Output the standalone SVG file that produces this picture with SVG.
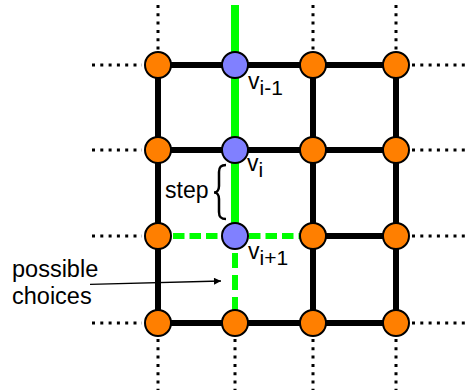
<svg xmlns="http://www.w3.org/2000/svg" width="466" height="390" viewBox="0 0 466 390">
<defs>
<style>
.edge{stroke:#000;stroke-width:6;fill:none}
.dot{stroke:#000;stroke-width:3;stroke-dasharray:3 5.3;fill:none}
.green{stroke:#00FF00;stroke-width:8;fill:none}
.gdash{stroke:#00FF00;stroke-width:6;fill:none}
.on{fill:#FF7F00;stroke:#000;stroke-width:2}
.pn{fill:#8080FF;stroke:#000;stroke-width:2}
text{font-family:"Liberation Sans",Arial,sans-serif;fill:#000}
.lab{font-size:23px}
.big{font-size:23.5px}
.sub{font-size:21px}
</style>
<marker id="arr" viewBox="0 0 10 10" refX="10" refY="5" markerWidth="10" markerHeight="7" markerUnits="userSpaceOnUse" orient="auto">
<path d="M0,0 L10,5 L0,10 z" fill="#000"/>
</marker>
</defs>
<g id="connectors">
<line class="dot" x1="92" y1="65" x2="142" y2="65"/>
<line class="dot" x1="92" y1="150" x2="142" y2="150"/>
<line class="dot" x1="92" y1="236" x2="142" y2="236"/>
<line class="dot" x1="92" y1="323" x2="142" y2="323"/>
<line class="dot" x1="412" y1="65" x2="466" y2="65"/>
<line class="dot" x1="412" y1="150" x2="466" y2="150"/>
<line class="dot" x1="412" y1="236" x2="466" y2="236"/>
<line class="dot" x1="412" y1="323" x2="466" y2="323"/>
<line class="dot" x1="158" y1="5" x2="158" y2="50"/>
<line class="dot" x1="313" y1="5" x2="313" y2="50"/>
<line class="dot" x1="396" y1="5" x2="396" y2="50"/>
<line class="dot" x1="158" y1="339" x2="158" y2="390"/>
<line class="dot" x1="235" y1="339" x2="235" y2="390"/>
<line class="dot" x1="313" y1="339" x2="313" y2="390"/>
<line class="dot" x1="396" y1="339" x2="396" y2="390"/>
<line class="edge" x1="158" y1="65" x2="396" y2="65"/>
<line class="edge" x1="158" y1="150" x2="396" y2="150"/>
<line class="edge" x1="313" y1="236" x2="396" y2="236"/>
<line class="edge" x1="158" y1="323" x2="396" y2="323"/>
<line class="edge" x1="158" y1="65" x2="158" y2="323"/>
<line class="edge" x1="313" y1="65" x2="313" y2="323"/>
<line class="edge" x1="396" y1="65" x2="396" y2="323"/>
<line class="green" x1="235" y1="5" x2="235" y2="236"/>
<line class="gdash" x1="173" y1="236" x2="222" y2="236" stroke-dasharray="11.5 5"/>
<line class="gdash" x1="249" y1="236" x2="300" y2="236" stroke-dasharray="11.5 5"/>
<line class="gdash" x1="235" y1="253" x2="235" y2="312" stroke-dasharray="15 7"/>
<path d="M226,165 C220,165 219,168 219,172 L219,186 C219,190 217,192.5 214,192.5 C217,192.5 219,195 219,199 L219,212 C219,216 220,219 226,219" fill="none" stroke="#000" stroke-width="2.5"/>
<line x1="90" y1="284.3" x2="221" y2="281" stroke="#000" stroke-width="1.3" marker-end="url(#arr)"/>
</g>
<g id="n11"><circle class="on" cx="158" cy="65" r="13"/></g>
<g id="n12"><circle class="pn" cx="235" cy="65" r="13"/></g>
<g id="n13"><circle class="on" cx="313" cy="65" r="13"/></g>
<g id="n14"><circle class="on" cx="396" cy="65" r="13"/></g>
<g id="n21"><circle class="on" cx="158" cy="150" r="13"/></g>
<g id="n22"><circle class="pn" cx="235" cy="150" r="13"/></g>
<g id="n23"><circle class="on" cx="313" cy="150" r="13"/></g>
<g id="n24"><circle class="on" cx="396" cy="150" r="13"/></g>
<g id="n31"><circle class="on" cx="158" cy="236" r="13"/></g>
<g id="n32"><circle class="pn" cx="235" cy="236" r="13"/></g>
<g id="n33"><circle class="on" cx="313" cy="236" r="13"/></g>
<g id="n34"><circle class="on" cx="396" cy="236" r="13"/></g>
<g id="n41"><circle class="on" cx="158" cy="323" r="13"/></g>
<g id="n42"><circle class="on" cx="235" cy="323" r="13"/></g>
<g id="n43"><circle class="on" cx="313" cy="323" r="13"/></g>
<g id="n44"><circle class="on" cx="396" cy="323" r="13"/></g>
<g id="labels">
<text class="lab" x="248" y="89">v<tspan class="sub" dy="6">i-1</tspan></text>
<text class="lab" x="247" y="171">v<tspan class="sub" dy="6">i</tspan></text>
<text class="lab" x="248" y="259">v<tspan class="sub" dy="6">i+1</tspan></text>
<text class="lab" x="165" y="198">step</text>
<text class="big" x="12" y="277">possible</text>
<text class="big" x="12" y="304">choices</text>
</g>
</svg>
